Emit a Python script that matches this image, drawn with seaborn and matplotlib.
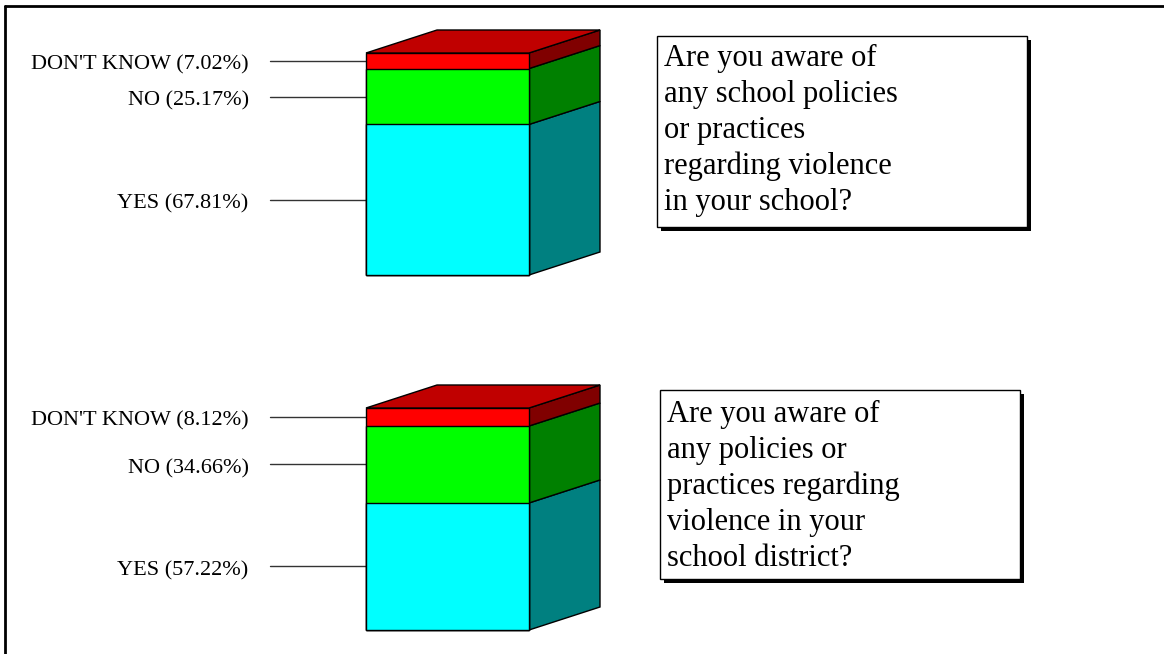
import numpy as np
import pandas as pd
import matplotlib
matplotlib.use("Agg")
import matplotlib.pyplot as plt
import seaborn as sns
from matplotlib.patches import Polygon, Rectangle

# answers, bottom to top of each stacked bar
answers = ["YES", "NO", "DON'T KNOW"]
school_pct = [67.81, 25.17, 7.02]
district_pct = [57.22, 34.66, 8.12]
questions = [
    ["Are you aware of", "any school policies", "or practices",
     "regarding violence", "in your school?"],
    ["Are you aware of", "any policies or", "practices regarding",
     "violence in your", "school district?"],
]

front_colors = ["#00FFFF", "#00FF00", "#FF0000"]
side_colors = ["#008080", "#008000", "#800000"]
top_color = "#C00000"

sns.set_theme(style="white")
plt.rcParams["font.family"] = ["Liberation Serif", "DejaVu Serif"]

W, H = 1164, 654
fig = plt.figure(figsize=(W / 100, H / 100), dpi=100)


def fx(px):
    return px / W


def fy(py):
    return 1 - py / H


# layout in pixels
px_per_unit = 163.0      # bar width
px_per_pct = 2.22        # vertical scale
xlim = (-1.1, 1.0)
ylim = (0, 112)
depth_x = 71 / px_per_unit
depth_y = 23 / px_per_pct
bar_left_px = 366
bar_bottoms_px = [275, 630]
# box x, y, w, h, text x, first baseline
boxes = [(657, 36, 370, 191, 664, 66), (660, 390, 360, 189, 667, 422)]


def draw_bar(ax, values):
    cum = np.cumsum(values)
    df = pd.DataFrame({"q": [0] * len(values), "cum": cum, "answer": answers})
    # draw cumulative totals from the tallest down so the segments stack
    for k in range(len(values) - 1, -1, -1):
        sns.barplot(data=df.iloc[[k]], x="q", y="cum", color=front_colors[k],
                    saturation=1, width=1, edgecolor="black", linewidth=1,
                    ax=ax, zorder=2, clip_on=False)
    lows = np.concatenate([[0], cum[:-1]])
    for k in range(len(values)):
        lo, hi = lows[k], cum[k]
        ax.add_patch(Polygon([(0.5, lo), (0.5 + depth_x, lo + depth_y),
                              (0.5 + depth_x, hi + depth_y), (0.5, hi)],
                             closed=True, facecolor=side_colors[k],
                             edgecolor="black", linewidth=1, zorder=1,
                             clip_on=False))
        mid = (lo + hi) / 2
        ax.plot([-1.088, -0.5], [mid, mid], color="#333333", lw=1,
                clip_on=False, zorder=1)
        ax.annotate(f"{answers[k]} ({values[k]:.2f}%)", xy=(-1.22, mid),
                    xytext=(0, -3), textcoords="offset points", ha="right",
                    va="center", fontsize=16, color="black",
                    annotation_clip=False)
    total = cum[-1]
    ax.add_patch(Polygon([(-0.5, total), (0.5, total),
                          (0.5 + depth_x, total + depth_y),
                          (-0.5 + depth_x, total + depth_y)],
                         closed=True, facecolor=top_color,
                         edgecolor="black", linewidth=1, zorder=3,
                         clip_on=False))
    ax.set_xlim(*xlim)
    ax.set_ylim(*ylim)
    ax.set_axis_off()


for bottom_px, values in zip(bar_bottoms_px, [school_pct, district_pct]):
    left_px = bar_left_px + (xlim[0] + 0.5) * px_per_unit
    width_px = (xlim[1] - xlim[0]) * px_per_unit
    height_px = (ylim[1] - ylim[0]) * px_per_pct
    ax = fig.add_axes([fx(left_px), fy(bottom_px), width_px / W, height_px / H])
    draw_bar(ax, values)

# question boxes with drop shadow
for (bx, by, bw, bh, tx, base), lines in zip(boxes, questions):
    fig.patches.append(Rectangle((fx(bx + 4), fy(by + bh + 4)), bw / W, bh / H,
                                 transform=fig.transFigure, facecolor="black",
                                 edgecolor="none", zorder=1))
    fig.patches.append(Rectangle((fx(bx), fy(by + bh)), bw / W, bh / H,
                                 transform=fig.transFigure, facecolor="white",
                                 edgecolor="black", linewidth=1, zorder=2))
    for i, line in enumerate(lines):
        fig.text(fx(tx), fy(base + i * 36), line, fontsize=22,
                 ha="left", va="baseline", color="black", zorder=3)

# outer frame (only top and left edges show)
fig.add_artist(plt.Line2D([fx(5), 1], [fy(6), fy(6)], color="black", lw=2,
                          transform=fig.transFigure))
fig.add_artist(plt.Line2D([fx(5), fx(5)], [fy(6), 0], color="black", lw=2,
                          transform=fig.transFigure))

fig.savefig("out.png", dpi=100, facecolor="white")
